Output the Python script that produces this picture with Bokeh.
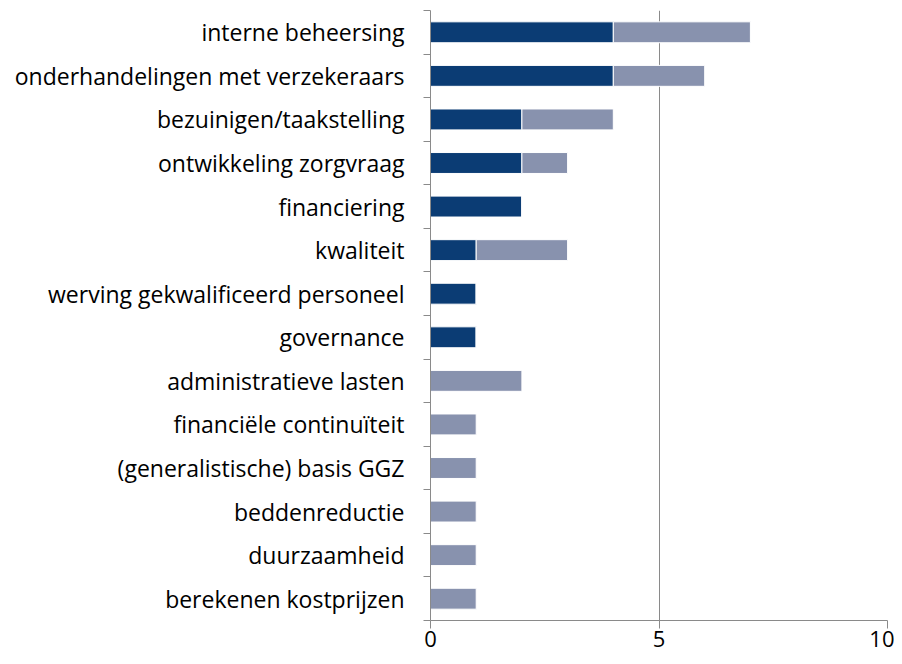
from bokeh.plotting import figure
from bokeh.models import FixedTicker, Range1d, ColumnDataSource, LinearAxis
from bokeh.embed import file_html
from bokeh.resources import INLINE

categories = [
    "interne beheersing",
    "onderhandelingen met verzekeraars",
    "bezuinigen/taakstelling",
    "ontwikkeling zorgvraag",
    "financiering",
    "kwaliteit",
    "werving gekwalificeerd personeel",
    "governance",
    "administratieve lasten",
    "financiële continuïteit",
    "(generalistische) basis GGZ",
    "beddenreductie",
    "duurzaamheid",
    "berekenen kostprijzen",
]
series_dark = [4, 4, 2, 2, 2, 1, 1, 1, 0, 0, 0, 0, 0, 0]
series_light = [3, 2, 2, 1, 0, 2, 0, 0, 2, 1, 1, 1, 1, 1]
x_ticks = [0, 5, 10]

n = len(categories)
ypos = [n - 1 - i for i in range(n)]
bounds = [i - 0.5 for i in range(n + 1)]
src = ColumnDataSource(dict(y=ypos, dark=series_dark, light=series_light))

FONT = "Open Sans"
GREY = "#8a8a8a"

p = figure(width=894, height=656, x_range=Range1d(0, 10), y_range=Range1d(-0.5, n - 0.5),
           output_backend="svg", toolbar_location=None,
           min_border_left=430, min_border_right=7, min_border_top=10, min_border_bottom=36)
p.outline_line_color = None
p.background_fill_color = "white"

p.hbar_stack(["dark", "light"], y="y", height=0.48, source=src,
             color=["#0b3c74", "#8892ae"], line_color="white", line_width=1)

# x axis
p.xaxis.ticker = FixedTicker(ticks=x_ticks)
p.xaxis.minor_tick_line_color = None
p.xaxis.major_tick_in = 0
p.xaxis.major_tick_out = 8
p.xaxis.axis_line_color = GREY
p.xaxis.major_tick_line_color = GREY
p.xaxis.major_label_text_font = FONT
p.xaxis.major_label_text_font_size = "22px"
p.xaxis.major_label_text_color = "black"
p.xaxis.major_label_standoff = 2

# y axis: tick marks at category boundaries
yax = p.yaxis[0]
yax.ticker = FixedTicker(ticks=bounds)
yax.major_label_overrides = {b: "" for b in bounds}
yax.major_tick_in = 0
yax.major_tick_out = 7
yax.minor_tick_line_color = None
yax.major_tick_line_color = GREY
yax.axis_line_color = GREY
yax.major_label_standoff = 0
yax.major_label_text_font_size = "1px"

# y axis: category labels
lab = LinearAxis(ticker=FixedTicker(ticks=ypos),
                 major_label_overrides={ypos[i]: categories[i] for i in range(n)})
lab.axis_line_color = None
lab.major_tick_line_color = None
lab.minor_tick_line_color = None
lab.major_tick_in = 0
lab.major_tick_out = 0
lab.major_label_text_font = FONT
lab.major_label_text_font_size = "23px"
lab.major_label_text_color = "black"
lab.major_label_standoff = 19
p.add_layout(lab, "left")

# grid
p.ygrid.grid_line_color = None
p.xgrid.ticker = FixedTicker(ticks=[5, 10])
p.xgrid.grid_line_color = GREY

open("out.html", "w").write(file_html(p, INLINE))
